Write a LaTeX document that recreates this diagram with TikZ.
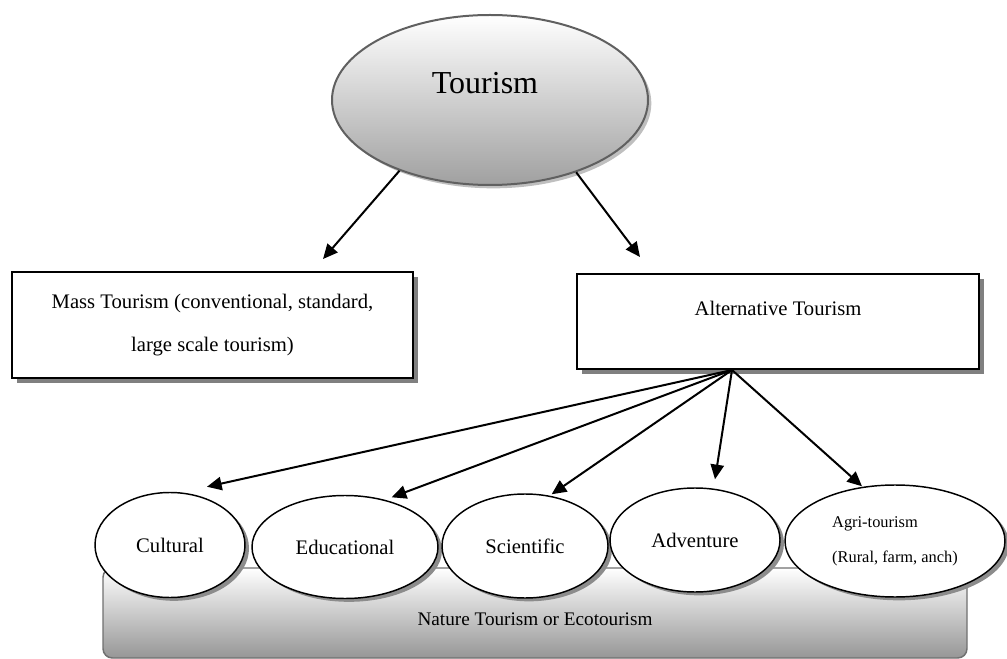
\documentclass[tikz,border=0pt]{standalone}
\usepackage{fontspec}
\setmainfont{Liberation Serif}
\usetikzlibrary{shapes.geometric,arrows.meta,shadows,calc}
\definecolor{tborder}{RGB}{96,96,96}
\definecolor{natborder}{RGB}{112,112,112}
\definecolor{natbottom}{RGB}{150,150,150}
\definecolor{tbottom}{RGB}{160,160,160}
\begin{document}
\begin{tikzpicture}[x=0.75pt,y=-0.75pt,
  arr/.style={line width=1.5pt,-{Triangle[length=11pt,width=10pt]}},
  oval/.style={ellipse,draw=black,line width=1.1pt,fill=white,inner sep=0pt,
     font=\fontsize{15.5}{18}\selectfont,
     drop shadow={shadow xshift=3pt,shadow yshift=-2.5pt,fill=gray!90,opacity=1}},
  box/.style={rectangle,draw=black,line width=1.5pt,fill=white,inner sep=0pt,
     font=\fontsize{15.5}{32}\selectfont,align=center,
     drop shadow={shadow xshift=4pt,shadow yshift=-3.5pt,fill=gray,opacity=1}},
  lbl/.style={font=\fontsize{15.5}{18}\selectfont}
]
\useasboundingbox (0,0) rectangle (1007,659);

% Tourism
\node[ellipse,draw=tborder,line width=1.5pt,top color=white,bottom color=tbottom,
  minimum width=237pt,minimum height=127.5pt,inner sep=0pt,
  drop shadow={shadow xshift=2.5pt,shadow yshift=-2.5pt,fill=gray!50,opacity=1},
  label={[font=\fontsize{24}{28}\selectfont,xshift=-3.75pt,yshift=12.75pt]center:Tourism}]
  (tourism) at (490,100) {};

% Second level
\node[box,minimum width=300.75pt,minimum height=79.5pt] (mass) at (212.5,325)
  {Mass Tourism (conventional, standard,\\large scale tourism)};
\node[box,minimum width=301.5pt,minimum height=71.25pt,
  label={[lbl,yshift=10pt]center:Alternative Tourism}] (alt) at (778,321.5) {};

% Nature base
\node[rectangle,rounded corners=7pt,draw=natborder,line width=1.1pt,
  top color=white,bottom color=natbottom,minimum width=648pt,minimum height=67.5pt,
  inner sep=0pt,
  label={[font=\fontsize{14.4}{17}\selectfont,yshift=-5pt]center:Nature Tourism or Ecotourism}]
  (nature) at (535,613) {};

% Ellipses
\node[oval,minimum width=112.5pt,minimum height=78.75pt] (cul) at (170,545) {Cultural};
\node[oval,minimum width=139.5pt,minimum height=77.25pt] (edu) at (345,547) {Educational};
\node[oval,minimum width=124.5pt,minimum height=78pt] (sci) at (525,546) {Scientific};
\node[oval,minimum width=127.5pt,minimum height=78pt] (adv) at (695,540) {Adventure};
\node[oval,minimum width=165pt,minimum height=84pt,align=left,
  font=\fontsize{12.3}{26}\selectfont] (agr) at (895,541) {Agri-tourism\\(Rural, farm, anch)};

% Arrows
\draw[arr] (tourism.218) -- ([xshift=82.9pt,yshift=9pt]mass.north);
\draw[arr] (tourism.320) -- ([xshift=-103.5pt,yshift=12pt]alt.north);

\coordinate (apex) at ([xshift=-34.5pt]alt.south);
\draw[arr] (apex) -- ([xshift=27.75pt,yshift=3.75pt]cul.north);
\draw[arr] (apex) -- ([xshift=35pt,yshift=-1.9pt]edu.north);
\draw[arr] (apex) -- ([xshift=20pt,yshift=-0.75pt]sci.north);
\draw[arr] (apex) -- ([xshift=15pt,yshift=6pt]adv.north);
\draw[arr] (apex) -- ([xshift=-24.75pt,yshift=-1.5pt]agr.north);
\end{tikzpicture}
\end{document}
